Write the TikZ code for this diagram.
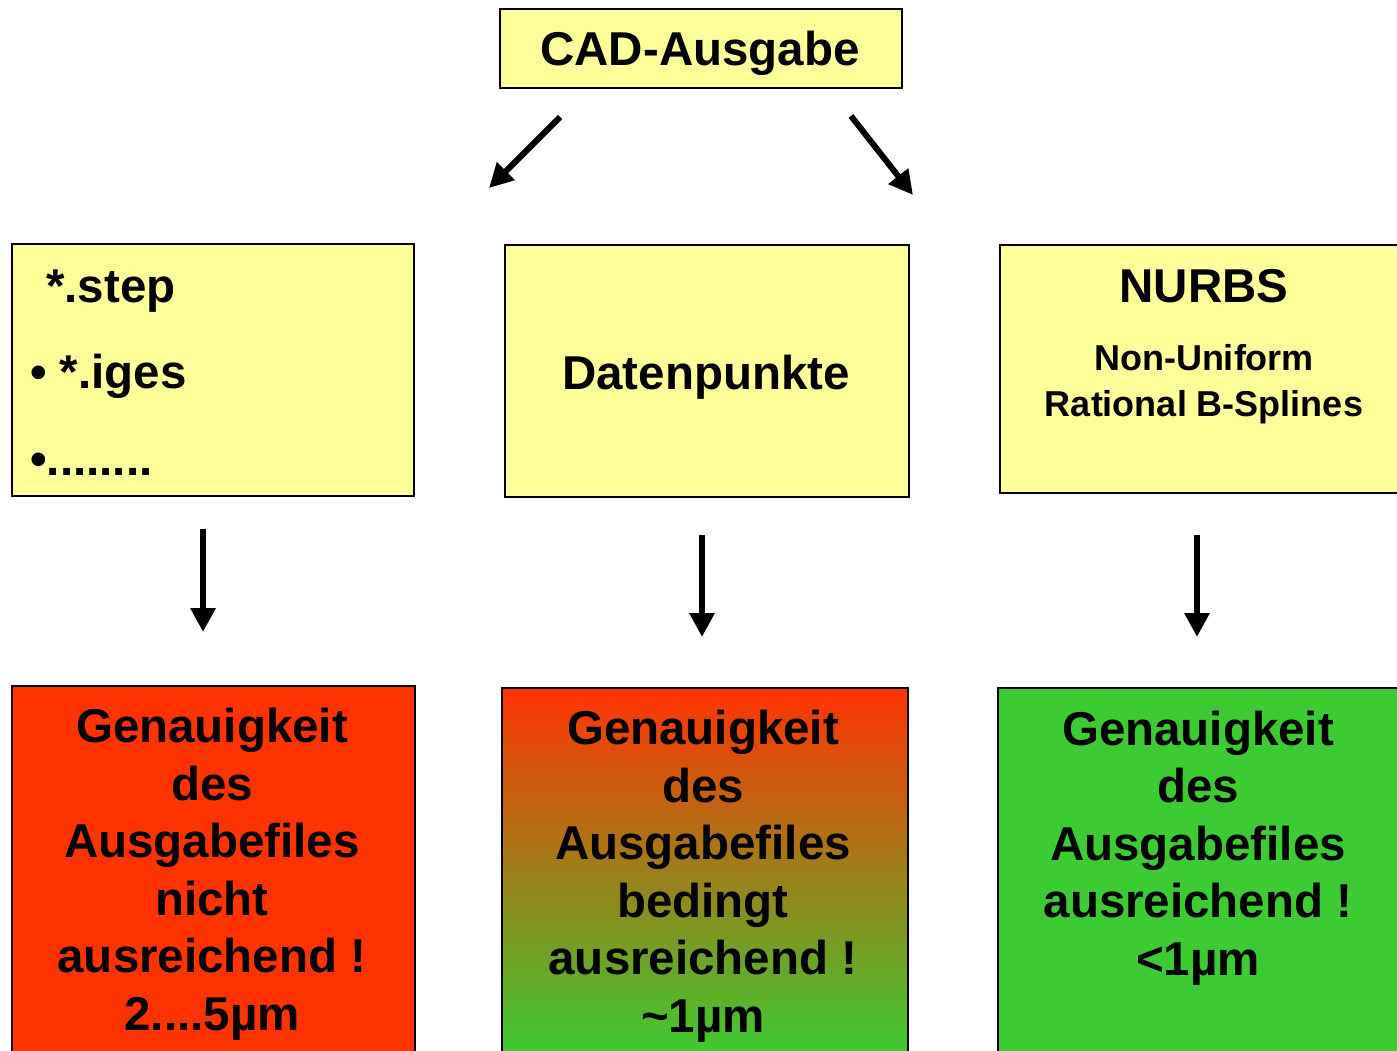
\documentclass[tikz,border=0pt]{standalone}
\usepackage{fontspec}
\setmainfont{Liberation Sans}
\usetikzlibrary{arrows.meta}
\definecolor{boxyellow}{HTML}{FFFF99}
\definecolor{badred}{HTML}{FF3300}
\definecolor{goodgreen}{HTML}{3CCB33}
\begin{document}
\begin{tikzpicture}[x=1pt,y=-1pt,
  box/.style={draw=black, line width=1.8pt, inner sep=0pt, anchor=north west},
  big/.style={font=\bfseries\fontsize{47.5}{57.5}\selectfont, inner sep=0pt},
  small/.style={font=\bfseries\fontsize{36}{46}\selectfont, inner sep=0pt},
  flow/.style={line width=6pt, -{Triangle[width=24pt,length=24pt]}}]
\useasboundingbox (0,0) rectangle (1397,1050);
\clip (0,0) rectangle (1397,1050);

% boxes
\node[box, fill=boxyellow, minimum width=402pt, minimum height=79pt] (cad) at (499,8) {};
\node[box, fill=boxyellow, minimum width=402pt, minimum height=252pt] (fmt) at (11,243) {};
\node[box, fill=boxyellow, minimum width=404pt, minimum height=252pt] (dat) at (504,244) {};
\node[box, fill=boxyellow, minimum width=420pt, minimum height=248pt] (nurbs) at (999,244) {};
\node[box, fill=badred, minimum width=403pt, minimum height=380pt] (resl) at (11,685) {};
\node[box, top color=badred, bottom color=goodgreen, minimum width=406pt, minimum height=368pt] (resm) at (501,687) {};
\node[box, fill=goodgreen, minimum width=420pt, minimum height=378pt] (resr) at (997,687) {};

% texts
\node[big, anchor=base] (cadt) at (700,65) {CAD-Ausgabe};
\node[big, anchor=base west] (f1) at (46,302) {*.step};
\node[big, anchor=base west] (f2) at (30,388) {• *.iges};
\node[big, anchor=base west] (f3) at (30,475) {•........};
\node[big, anchor=base] (datt) at (706,389) {Datenpunkte};
\node[big, anchor=base] (nt) at (1204,302) {NURBS};
\node[small, align=center, anchor=base] (nt2) at (1204,416) {Non-Uniform\\Rational B-Splines};
\node[big, align=center, anchor=base] (rlt) at (212,1030) {Genauigkeit\\des\\Ausgabefiles\\nicht\\ausreichend !\\2....5µm};
\node[big, align=center, anchor=base] (rmt) at (703,1032) {Genauigkeit\\des\\Ausgabefiles\\bedingt\\ausreichend !\\\char"007E 1µm};
\node[big, align=center, anchor=base] (rrt) at (1198,975) {Genauigkeit\\des\\Ausgabefiles\\ausreichend !\\<1µm};

% arrow ends
\coordinate (a1s) at (560,117); \coordinate (a1e) at (489,188);
\coordinate (a2s) at (851,116); \coordinate (a2e) at (913,195);
\coordinate (d1s) at (203,529); \coordinate (d1e) at (203,632);
\coordinate (d2s) at (702,535); \coordinate (d2e) at (702,637);
\coordinate (d3s) at (1197,535); \coordinate (d3e) at (1197,637);
\draw[flow] (a1s) -- (a1e);
\draw[flow] (a2s) -- (a2e);
\draw[flow] (d1s) -- (d1e);
\draw[flow] (d2s) -- (d2e);
\draw[flow] (d3s) -- (d3e);
\end{tikzpicture}
\end{document}
